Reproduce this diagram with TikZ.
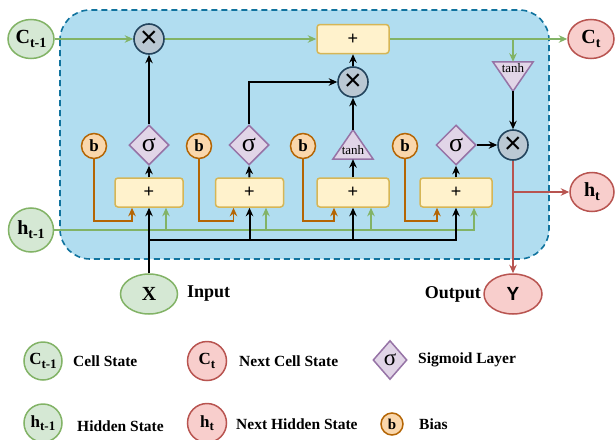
\documentclass[tikz,border=0pt]{standalone}
\usepackage{fontspec}
\setmainfont{Liberation Serif}
\newfontfamily\lsans{Liberation Sans}
\usetikzlibrary{shapes.geometric,arrows.meta}
\definecolor{bluefill}{HTML}{B1DDF0}
\definecolor{bluestroke}{HTML}{10739E}
\definecolor{gfill}{HTML}{D5E8D4}
\definecolor{gstroke}{HTML}{82B366}
\definecolor{rfill}{HTML}{F8CECC}
\definecolor{rstroke}{HTML}{B85450}
\definecolor{yfill}{HTML}{FFF2CC}
\definecolor{ystroke}{HTML}{D6B656}
\definecolor{pfill}{HTML}{E1D5E7}
\definecolor{pstroke}{HTML}{9673A6}
\definecolor{ofill}{HTML}{FAD7AC}
\definecolor{ostroke}{HTML}{B46504}
\definecolor{mfill}{HTML}{BAC8D3}
\definecolor{mstroke}{HTML}{23445D}
\newcommand{\lsub}[2][14]{\raisebox{-0.45ex}{\fontsize{#1}{#1}\selectfont #2}}
\tikzset{
  gell/.style={ellipse,draw=gstroke,fill=gfill,line width=1.5pt,inner sep=0pt,font=\fontsize{20}{20}\selectfont\bfseries},
  rell/.style={ellipse,draw=rstroke,fill=rfill,line width=1.5pt,inner sep=0pt,font=\fontsize{20}{20}\selectfont\bfseries},
  mult/.style={circle,draw=mstroke,fill=mfill,line width=1.6pt,minimum size=30pt,inner sep=0pt,font=\lsans\fontsize{30}{30}\selectfont},
  plusbox/.style={rectangle,rounded corners=3pt,draw=ystroke,fill=yfill,line width=1.5pt,minimum height=29pt,inner sep=0pt,font=\lsans\fontsize{18}{18}\selectfont},
  bnode/.style={circle,draw=ostroke,fill=ofill,line width=1.5pt,minimum size=25pt,inner sep=0pt,font=\fontsize{17}{17}\selectfont\bfseries},
  signode/.style={diamond,draw=pstroke,fill=pfill,line width=1.5pt,minimum width=40pt,minimum height=40pt,inner sep=0pt,font=\fontsize{26}{26}\selectfont},
  tribox/.style={rectangle,minimum width=40pt,minimum height=29pt,inner sep=0pt},
  tripoly/.style={draw=pstroke,fill=pfill,line width=1.5pt,line join=miter},
  tanhtxt/.style={inner sep=0pt,font=\fontsize{13}{13}\selectfont},
  lbl/.style={anchor=west,inner sep=0pt,font=\fontsize{15.5}{15.5}\selectfont\bfseries},
  biglbl/.style={inner sep=0pt,font=\fontsize{18}{18}\selectfont\bfseries},
  tip/.tip={Stealth[length=8.5pt,width=7.5pt]},
  garr/.style={draw=gstroke,line width=1.6pt,-tip},
  karr/.style={draw=black,line width=2pt,-tip},
  oarr/.style={draw=ostroke,line width=1.8pt,-tip},
  rarr/.style={draw=rstroke,line width=1.6pt,-tip},
}
\begin{document}
\begin{tikzpicture}[x=1pt,y=-1pt]
\useasboundingbox (0,0) rectangle (615,439);
% background cell
\draw[fill=bluefill,draw=bluestroke,line width=1.6pt,dash pattern=on 6pt off 4pt,rounded corners=30pt] (60,10) rectangle (549,259);

% inputs / outputs
\node[gell,minimum width=46pt,minimum height=39pt] (c0) at (31,39) {C\lsub{t-1}};
\node[gell,minimum width=45pt,minimum height=44pt] (h0) at (31,230) {h\lsub{t-1}};
\node[rell,minimum width=46pt,minimum height=39pt] (ct) at (591,39) {C\lsub{t}};
\node[rell,minimum width=44pt,minimum height=39pt] (ht) at (592,192) {h\lsub{t}};
\node[gell,minimum width=57pt,minimum height=40pt] (x) at (149,294) {X};
\node[rell,minimum width=58pt,minimum height=40pt,font=\lsans\fontsize{19}{19}\selectfont\bfseries] (y) at (513,294) {Y};
\node[biglbl,anchor=west] (inlbl) at (187,294) {Input};
\node[biglbl,anchor=east] (outlbl) at (481,294) {Output};

% operators
\node[mult] (m1) at (149,39) {×};
\node[plusbox,minimum width=72pt] (pt) at (353,39) {+};
\node[mult] (m2) at (353,82) {×};
\node[mult] (m3) at (513,145) {×};

% tanh (down) on the cell state
\node[tribox] (t2) at (513,76.5) {};
\filldraw[tripoly] (t2.north west) -- (t2.north east) -- (t2.south) -- cycle;
\node[tanhtxt] (t2txt) at (513,68) {tanh};

% gates row
\node[bnode] (b1) at (94,146) {b};
\node[bnode] (b2) at (199,146) {b};
\node[bnode] (b3) at (303,146) {b};
\node[bnode] (b4) at (405,146) {b};
\node[signode] (s1) at (149,145) {σ};
\node[signode] (s2) at (249,145) {σ};
\node[tribox] (t1) at (353,144.5) {};
\filldraw[tripoly] (t1.south west) -- (t1.south east) -- (t1.north) -- cycle;
\node[tanhtxt] (t1txt) at (353,150) {tanh};
\node[signode] (s4) at (456,145) {σ};

\node[plusbox,minimum width=68pt] (p1) at (149,192.5) {+};
\node[plusbox,minimum width=68pt] (p2) at (249.5,192.5) {+};
\node[plusbox,minimum width=72pt] (p3) at (353,192.5) {+};
\node[plusbox,minimum width=72pt] (p4) at (456,192.5) {+};

\coordinate (gy) at (0,230);
\coordinate (ky) at (0,240);
\coordinate (oy) at (0,221);

% cell-state line
\draw[garr] (c0.east) -- (m1.west);
\draw[garr] (m1.east) -- (pt.west);
\draw[garr] (pt.east) -- (ct.west);
\coordinate (br) at (513,39);
\draw[garr] (br) -- (t2.north);
\draw[karr] (t2.south) -- (m3.north);
\draw[karr] (s4.east) -- (m3.west);
\draw[rarr] (m3.south) -- (y.north);
\coordinate (br2) at (513,192);
\draw[rarr] (br2) -- (ht.west);

% gate outputs
\draw[karr] (s1.north) -- (m1.south);
\draw[karr] (s2.north) |- (m2.west);
\draw[karr] (t1.north) -- (m2.south);
\draw[karr] (m2.north) -- (pt.south);
\draw[karr] (p1.north) -- (s1.south);
\draw[karr] (p2.north) -- (s2.south);
\draw[karr] (p3.north) -- (t1.south);
\draw[karr] (p4.north) -- (s4.south);

% biases
\draw[oarr] (b1.south) -- (b1.south |- oy) -| ([xshift=-17pt]p1.south);
\draw[oarr] (b2.south) -- (b2.south |- oy) -| ([xshift=-16pt]p2.south);
\draw[oarr] (b3.south) -- (b3.south |- oy) -| ([xshift=-19pt]p3.south);
\draw[oarr] (b4.south) -- (b4.south |- oy) -| ([xshift=-19pt]p4.south);

% hidden state
\draw[garr] (h0.east |- gy) -| ([xshift=18pt]p4.south);
\draw[garr] ([xshift=17pt]p1.south |- gy) -- ([xshift=17pt]p1.south);
\draw[garr] ([xshift=16.5pt]p2.south |- gy) -- ([xshift=16.5pt]p2.south);
\draw[garr] ([xshift=18pt]p3.south |- gy) -- ([xshift=18pt]p3.south);

% input x
\draw[karr] (x.north) -- (p1.south);
\draw[karr] (p1.south |- ky) -| (p4.south);
\draw[karr] (p2.south |- ky) -- (p2.south);
\draw[karr] (p3.south |- ky) -- (p3.south);

% legend
\node[gell,circle,minimum size=38pt,font=\fontsize{17}{17}\selectfont\bfseries] (lc0) at (43,361) {C\lsub[13]{t-1}};
\node[lbl] (lc0t) at (73,361) {Cell State};
\node[rell,circle,minimum size=39pt,font=\fontsize{17}{17}\selectfont\bfseries] (lct) at (207,361) {C\lsub[13]{t}};
\node[lbl] (lctt) at (239,361) {Next Cell State};
\node[signode,minimum width=34pt,minimum height=39pt,font=\fontsize{23}{23}\selectfont] (ls) at (390,360) {σ};
\node[lbl] (lst) at (418,360) {Sigmoid Layer};
\node[gell,circle,minimum size=38pt,font=\fontsize{17}{17}\selectfont\bfseries] (lh0) at (43,423) {h\lsub[13]{t-1}};
\node[lbl] (lh0t) at (77,426) {Hidden State};
\node[rell,circle,minimum size=39pt,font=\fontsize{17}{17}\selectfont\bfseries] (lht) at (207,423) {h\lsub[13]{t}};
\node[lbl] (lhtt) at (236,424) {Next Hidden State};
\node[bnode,minimum size=22pt,font=\fontsize{15}{15}\selectfont\bfseries] (lb) at (392,424) {b};
\node[lbl] (lbt) at (419,424) {Bias};
\end{tikzpicture}
\end{document}
